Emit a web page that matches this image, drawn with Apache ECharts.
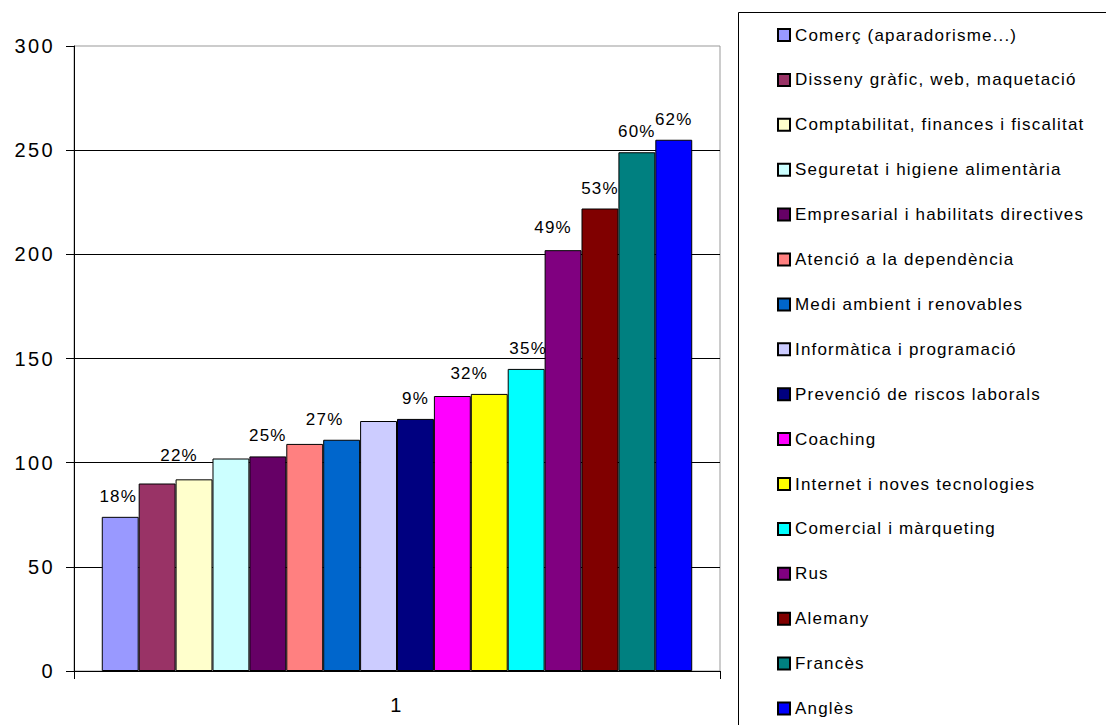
<!DOCTYPE html>
<html>
<head>
<meta charset="utf-8">
<script src="https://cdn.jsdelivr.net/npm/echarts@6/dist/echarts.min.js"></script>
<style>
html,body{margin:0;padding:0;background:#fff;}
#main{width:1106px;height:725px;}
</style>
</head>
<body>
<div id="main"></div>
<script>
// ---- data ----
const categories = ['1'];
const seriesNames = [
  'Comerç (aparadorisme...)',
  'Disseny gràfic, web, maquetació',
  'Comptabilitat, finances i fiscalitat',
  'Seguretat i higiene alimentària',
  'Empresarial i habilitats directives',
  'Atenció a la dependència',
  'Medi ambient i renovables',
  'Informàtica i programació',
  'Prevenció de riscos laborals',
  'Coaching',
  'Internet i noves tecnologies',
  'Comercial i màrqueting',
  'Rus',
  'Alemany',
  'Francès',
  'Anglès'
];
const values = [74, 90, 92, 102, 103, 109, 111, 120, 121, 132, 133, 145, 202, 222, 249, 255];
const percentLabels = ['18%', null, '22%', null, '25%', null, '27%', null, '9%', null, '32%', '35%', '49%', '53%', '60%', '62%'];
const yTicks = { min: 0, max: 300, interval: 50 };

// ---- styles ----
const colors = ['#9999FF', '#993366', '#FFFFCC', '#CCFFFF', '#660066', '#FF8080', '#0066CC', '#CCCCFF',
  '#000080', '#FF00FF', '#FFFF00', '#00FFFF', '#800080', '#800000', '#008080', '#0000FF'];
const labelShiftX = [-2, 0, -15, 0, 0, 0, -17, 0, 0, 0, -20, 2, -10, 0, 0, 0];
const labelShiftY = [0, 0, -3, 0, 0, 0, 0, 0, 0, 0, 0, 0, -2, 0, 0, 0];
const FONT = "'Liberation Sans', Arial, sans-serif";

const series = seriesNames.map((name, i) => ({
  name: name,
  type: 'bar',
  data: [values[i]],
  barGap: '0%',
  barCategoryGap: '8.6%',
  itemStyle: { color: colors[i], borderColor: '#000', borderWidth: 1 },
  label: {
    show: percentLabels[i] !== null,
    position: 'top',
    distance: 12,
    offset: [labelShiftX[i], labelShiftY[i]],
    formatter: () => percentLabels[i] || '',
    fontFamily: FONT,
    fontSize: 17,
    lineHeight: 17,
    color: '#000'
  },
  emphasis: { disabled: true }
}));

const chart = echarts.init(document.getElementById('main'), null, { renderer: 'svg' });
chart.setOption({
  animation: false,
  backgroundColor: '#fff',
  textStyle: { fontFamily: FONT },
  grid: {
    left: 74, right: 386, top: 46, bottom: 54,
    containLabel: false, outerBoundsMode: 'none',
    show: true, borderColor: '#999', borderWidth: 1, backgroundColor: 'transparent'
  },
  legend: {
    orient: 'vertical',
    left: 777,
    top: 26.5,
    padding: 0,
    itemWidth: 12,
    itemHeight: 12,
    itemGap: 27.9,
    icon: 'rect',
    selectedMode: false,
    textStyle: { fontFamily: FONT, fontSize: 17, lineHeight: 17, color: '#000' },
    data: seriesNames
  },
  graphic: [{
    type: 'rect',
    shape: { x: 738.5, y: 12.5, width: 500, height: 800 },
    style: { fill: 'none', stroke: '#000', lineWidth: 1 },
    silent: true
  }],
  xAxis: {
    type: 'category',
    data: categories,
    axisLine: { lineStyle: { color: '#000', width: 1 } },
    axisTick: { show: true, length: 8, lineStyle: { color: '#000' } },
    axisLabel: { fontFamily: FONT, fontSize: 20, color: '#000', margin: 24 },
    splitLine: { show: false }
  },
  yAxis: {
    type: 'value',
    min: yTicks.min, max: yTicks.max, interval: yTicks.interval,
    axisLine: { show: true, lineStyle: { color: '#000', width: 1 } },
    axisTick: { show: true, length: 8, lineStyle: { color: '#000' } },
    axisLabel: { fontFamily: FONT, fontSize: 20, color: '#000', margin: 19 },
    splitLine: { show: true, showMaxLine: false, showMinLine: false, lineStyle: { color: '#000', width: 1 } }
  },
  series: series
});

function spaceText() {
  document.querySelectorAll('#main text').forEach(t => {
    const fs = parseFloat(getComputedStyle(t).fontSize) || 12;
    t.style.letterSpacing = (fs >= 19 ? 0.12 : 0.07) + 'em';
  });
}
spaceText();
chart.on('finished', spaceText);
</script>
</body>
</html>
